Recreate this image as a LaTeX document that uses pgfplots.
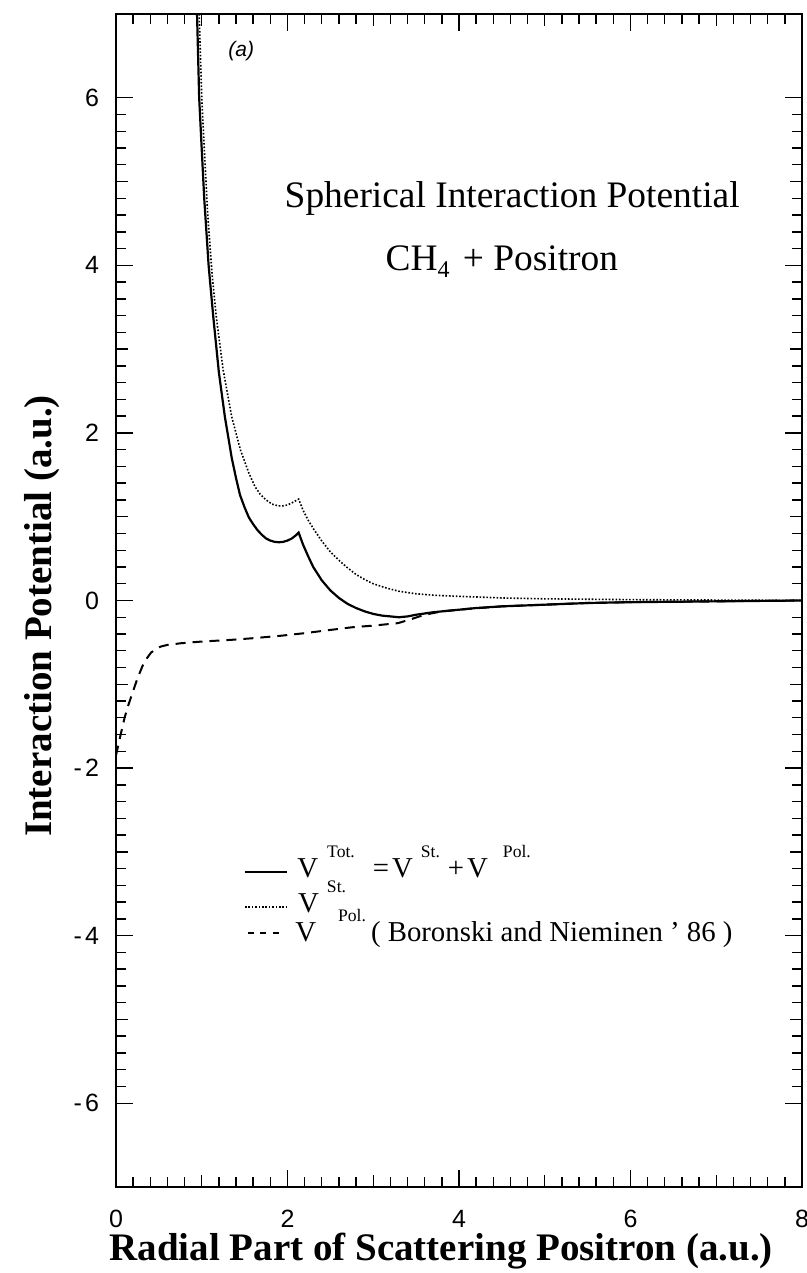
\documentclass[border=0pt]{standalone}
\usepackage{pgfplots}
\pgfplotsset{compat=1.18}
\usepackage{fontspec}
\setmainfont{Liberation Serif}
\newfontfamily\tickfont{Liberation Sans}
\newcommand{\supx}[1]{\raisebox{10pt}{\fontsize{8.8}{9}\selectfont #1}}
\begin{document}
\begin{tikzpicture}
\useasboundingbox (-58pt,-43pt) rectangle (345.5pt,593.5pt);
\begin{axis}[
  scale only axis,
  width=343pt, height=586.5pt,
  xmin=0, xmax=8, ymin=-7, ymax=7,
  axis line style={line width=1pt},
  xtick={0,2,4,6,8}, xticklabels={0,2,4,6,8},
  ytick={-6,-4,-2,0,2,4,6},
  yticklabels={-\hspace{1.5pt}6,-\hspace{1.5pt}4,-\hspace{1.5pt}2,0,2,4,6},
  extra x ticks={1,3,5,7}, extra x tick labels={},
  extra y ticks={-7,-5,-3,-1,1,3,5,7}, extra y tick labels={},
  extra tick style={major tick length=6pt},
  minor x tick num=9, minor y tick num=9,
  major tick length=8.5pt, minor tick length=5pt,
  every tick/.style={line width=0.7pt, black},
  tick align=inside,
  tick label style={font=\tickfont\fontsize{12.5}{13}\selectfont},
  xticklabel style={yshift=-8pt},
  yticklabel style={xshift=-5pt},
  xlabel={\fontsize{19.5}{20}\selectfont\bfseries Radial Part of Scattering Positron (a.u.)},
  ylabel={\fontsize{19.5}{20}\selectfont\bfseries Interaction Potential (a.u.)},
  xlabel style={at={(axis description cs:0.474,-0.0545)}, anchor=center},
  ylabel style={at={(axis description cs:-0.108,0.4868)}, anchor=center, rotate=0},
]
\addplot[black, line width=1.1pt] coordinates {
(0.945,7.0)(0.97,6.0)(1.00,5.38)(1.03,4.78)(1.08,4.0)(1.135,3.38)(1.20,2.72)
(1.27,2.19)(1.35,1.70)(1.40,1.46)(1.446,1.26)(1.50,1.11)
(1.55,0.99)(1.60,0.91)(1.65,0.84)(1.70,0.785)(1.75,0.74)(1.80,0.715)(1.85,0.70)
(1.90,0.695)(1.95,0.70)(2.00,0.715)(2.05,0.74)(2.10,0.78)(2.13,0.81)(2.18,0.67)
(2.24,0.53)(2.30,0.40)(2.40,0.24)(2.50,0.12)(2.60,0.03)(2.70,-0.04)(2.80,-0.09)
(2.90,-0.13)(3.00,-0.16)(3.10,-0.18)(3.20,-0.19)(3.30,-0.20)(3.40,-0.19)
(3.50,-0.17)(3.70,-0.14)(3.90,-0.12)(4.20,-0.09)(4.50,-0.07)(5.00,-0.05)
(5.50,-0.03)(6.00,-0.02)(7.00,-0.01)(8.00,0.00)};
\addplot[black, line width=0.8pt, dash pattern=on 0.8pt off 0.9pt] coordinates {
(0.97,7.0)(1.00,6.0)(1.03,5.38)(1.07,4.6)(1.12,3.9)(1.17,3.38)(1.25,2.75)
(1.35,2.19)(1.45,1.80)(1.55,1.52)(1.62,1.36)(1.68,1.27)
(1.75,1.20)(1.82,1.15)(1.89,1.13)(1.95,1.13)(2.00,1.14)(2.06,1.17)(2.13,1.21)
(2.18,1.08)(2.24,0.96)(2.30,0.86)(2.40,0.71)(2.50,0.58)(2.60,0.48)(2.70,0.39)
(2.80,0.31)(2.90,0.25)(3.00,0.20)(3.15,0.15)(3.30,0.11)(3.50,0.08)(3.75,0.06)
(4.00,0.05)(4.50,0.03)(5.00,0.02)(6.00,0.01)(8.00,0.00)};
\addplot[black, line width=1pt, dash pattern=on 5pt off 3.5pt] coordinates {
(0.00,-1.85)(0.05,-1.62)(0.10,-1.40)(0.14,-1.26)(0.20,-1.08)(0.25,-0.93)
(0.31,-0.78)(0.36,-0.69)(0.41,-0.62)(0.47,-0.58)(0.52,-0.55)(0.60,-0.53)
(0.76,-0.51)(1.00,-0.49)(1.34,-0.47)(1.60,-0.45)(1.93,-0.42)(2.20,-0.39)
(2.51,-0.35)(2.75,-0.32)(3.00,-0.30)(3.29,-0.27)(3.45,-0.22)(3.60,-0.17)
(3.80,-0.13)(4.11,-0.10)(4.50,-0.07)(5.00,-0.05)(5.50,-0.03)(6.00,-0.02)
(7.00,-0.01)(8.00,0.00)};
% legend samples
\addplot[black, line width=1.1pt] coordinates {(1.504,-3.24)(1.994,-3.24)};
\addplot[black, line width=0.8pt, dash pattern=on 0.8pt off 0.9pt] coordinates {(1.504,-3.657)(1.994,-3.657)};
\addplot[black, line width=1pt, dash pattern=on 3pt off 3.2pt] coordinates {(1.54,-3.968)(1.954,-3.968)};
\node[anchor=base west, inner sep=0pt, font=\fontsize{14.4}{16}\selectfont] at (axis cs:2.111,-3.311)
  {V\hspace{4.5pt}\supx{Tot.}\hspace{9pt}=\hspace{1.5pt}V\hspace{4pt}\supx{St.}\hspace{4pt}+\hspace{1.5pt}V\hspace{7.5pt}\supx{Pol.}};
\node[anchor=base west, inner sep=0pt, font=\fontsize{14.4}{16}\selectfont] at (axis cs:2.12,-3.729)
  {V\hspace{4pt}\supx{St.}};
\node[anchor=base west, inner sep=0pt, font=\fontsize{14.4}{16}\selectfont] at (axis cs:2.087,-4.075)
  {V\hspace{11pt}\supx{Pol.}\hspace{2.5pt}( Boronski and Nieminen ' 86 )};
\node[font=\tickfont\itshape\fontsize{10.5}{11}\selectfont] at (axis cs:1.46,6.56) {(a)};
\node[anchor=base, font=\fontsize{18.7}{20}\selectfont] at (axis cs:4.62,4.685) {Spherical Interaction Potential};
\node[anchor=base, font=\fontsize{18.7}{20}\selectfont] at (axis cs:4.50,3.94) {CH\raisebox{-3.5pt}{\fontsize{12}{12}\selectfont 4}\hspace{2pt} + Positron};
\end{axis}
\end{tikzpicture}
\end{document}
